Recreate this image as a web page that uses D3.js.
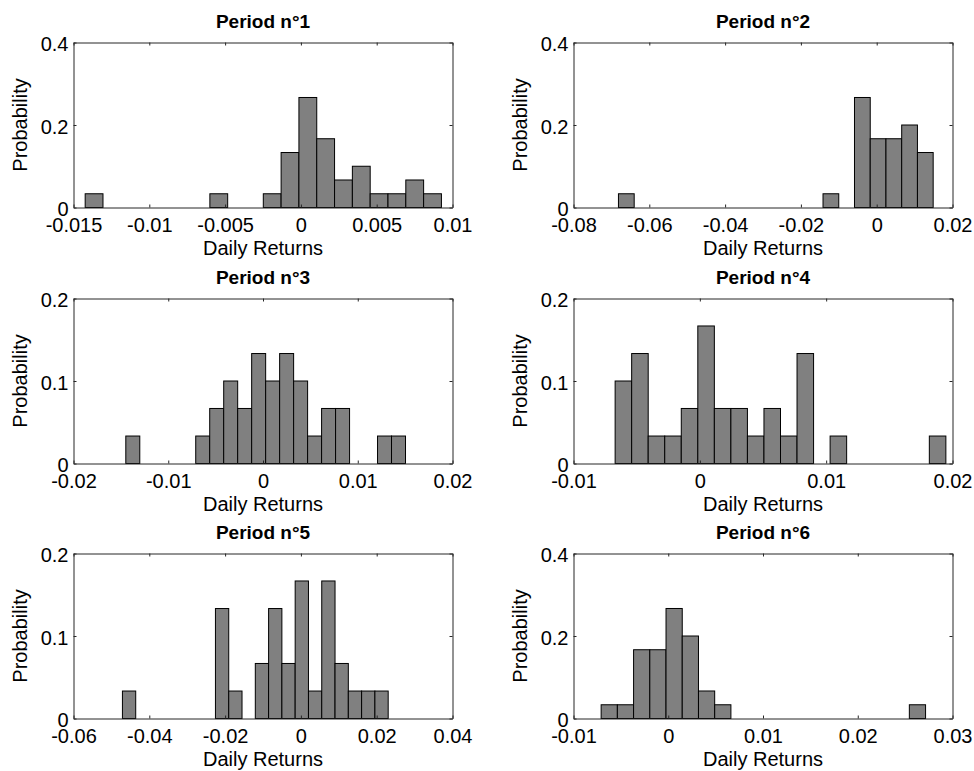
<!DOCTYPE html>
<html>
<head>
<meta charset="utf-8">
<script src="https://cdn.jsdelivr.net/npm/d3@7"></script>
<style>
body { margin: 0; background: #fff; }
text { font-family: "Liberation Sans", Arial, sans-serif; }
</style>
</head>
<body>
<script>
// histogram data, 20 bins per period (probability per bin)
var titles = ["Period n°1", "Period n°2", "Period n°3", "Period n°4", "Period n°5", "Period n°6"];
var binStarts = [-0.01423, -0.06814, -0.01448, -0.006705, -0.04709, -0.007083];
var binWidths = [0.001175, 0.004152, 0.001476, 0.001309, 0.003506, 0.001712];

var probs1 = [0.0333,0,0,0,0, 0,0,0.0333,0,0, 0.0333,0.1333,0.2667,0.1667,0.0667, 0.1,0.0333,0.0333,0.0667,0.0333];
var probs2 = [0.0333,0,0,0,0, 0,0,0,0,0, 0,0,0,0.0333,0, 0.2667,0.1667,0.1667,0.2,0.1333];
var probs3 = [0.0333,0,0,0,0, 0.0333,0.0667,0.1,0.0667,0.1333, 0.1,0.1333,0.1,0.0333,0.0667, 0.0667,0,0,0.0333,0.0333];
var probs4 = [0.1,0.1333,0.0333,0.0333,0.0667, 0.1667,0.0667,0.0667,0.0333,0.0667, 0.0333,0.1333,0,0.0333,0, 0,0,0,0,0.0333];
var probs5 = [0.0333,0,0,0,0, 0,0,0.1333,0.0333,0, 0.0667,0.1333,0.0667,0.1667,0.0333, 0.1667,0.0667,0.0333,0.0333,0.0333];
var probs6 = [0.0333,0.0333,0.1667,0.1667,0.2667, 0.2,0.0667,0.0333,0,0, 0,0,0,0,0, 0,0,0,0,0.0333];
var allProbs = [probs1, probs2, probs3, probs4, probs5, probs6];

var xDomains = [[-0.015, 0.01], [-0.08, 0.02], [-0.02, 0.02], [-0.01, 0.02], [-0.06, 0.04], [-0.01, 0.03]];
var xTicks = [
  [-0.015, -0.01, -0.005, 0, 0.005, 0.01],
  [-0.08, -0.06, -0.04, -0.02, 0, 0.02],
  [-0.02, -0.01, 0, 0.01, 0.02],
  [-0.01, 0, 0.01, 0.02],
  [-0.06, -0.04, -0.02, 0, 0.02, 0.04],
  [-0.01, 0, 0.01, 0.02, 0.03]
];
var yMaxes = [0.4, 0.4, 0.2, 0.2, 0.2, 0.4];
var yTicks = [[0, 0.2, 0.4], [0, 0.2, 0.4], [0, 0.1, 0.2], [0, 0.1, 0.2], [0, 0.1, 0.2], [0, 0.2, 0.4]];

var svgWidth = 974, svgHeight = 771;
var colLeft = [73.5, 573.5], plotW = 379;
var rowTop = [42.5, 298.5, 553.5], plotH = 165;
var axisColor = "#262626";

var svg = d3.select("body").append("svg")
  .attr("width", svgWidth).attr("height", svgHeight);

var fmt = function(d) { return String(+d.toFixed(4)); };

titles.forEach(function(title, i) {
  var left = colLeft[i % 2], top = rowTop[Math.floor(i / 2)];
  var x = d3.scaleLinear().domain(xDomains[i]).range([0, plotW]);
  var y = d3.scaleLinear().domain([0, yMaxes[i]]).range([plotH, 0]);

  var g = svg.append("g").attr("transform", "translate(" + left + "," + top + ")");

  var bins = allProbs[i].map(function(p, k) {
    return { x0: binStarts[i] + k * binWidths[i], x1: binStarts[i] + (k + 1) * binWidths[i], p: p };
  }).filter(function(b) { return b.p > 0; });

  g.selectAll("rect.bar")
    .data(bins)
    .enter().append("rect")
    .attr("class", "bar")
    .attr("x", function(d) { return x(d.x0); })
    .attr("width", function(d) { return x(d.x1) - x(d.x0); })
    .attr("y", function(d) { return y(d.p); })
    .attr("height", function(d) { return plotH - y(d.p); })
    .attr("fill", "#808080")
    .attr("stroke", "#000")
    .attr("stroke-width", 1);

  // box with inward ticks, like matlab
  var bottom = g.append("g").attr("transform", "translate(0," + plotH + ")")
    .call(d3.axisBottom(x).tickValues(xTicks[i]).tickFormat(fmt)
      .tickSizeInner(-3).tickSizeOuter(0).tickPadding(10));
  var topAx = g.append("g")
    .call(d3.axisTop(x).tickValues(xTicks[i]).tickFormat("")
      .tickSizeInner(-3).tickSizeOuter(0));
  var leftAx = g.append("g")
    .call(d3.axisLeft(y).tickValues(yTicks[i]).tickFormat(fmt)
      .tickSizeInner(-3).tickSizeOuter(0).tickPadding(5));
  var rightAx = g.append("g").attr("transform", "translate(" + plotW + ",0)")
    .call(d3.axisRight(y).tickValues(yTicks[i]).tickFormat("")
      .tickSizeInner(-3).tickSizeOuter(0));

  [bottom, topAx, leftAx, rightAx].forEach(function(a) {
    a.attr("font-size", 20).attr("font-family", null);
    a.selectAll("path, line").attr("stroke", axisColor);
    a.selectAll("text").attr("fill", "#000");
  });
  leftAx.selectAll("text").attr("dy", "0.42em");

  g.append("text")
    .attr("x", plotW / 2).attr("y", -15)
    .attr("text-anchor", "middle")
    .attr("font-size", 19).attr("font-weight", "bold")
    .text(title);

  g.append("text")
    .attr("x", plotW / 2).attr("y", plotH + 47)
    .attr("text-anchor", "middle")
    .attr("font-size", 20)
    .text("Daily Returns");

  g.append("text")
    .attr("transform", "translate(-46.5," + plotH / 2 + ") rotate(-90)")
    .attr("text-anchor", "middle")
    .attr("font-size", 20)
    .text("Probability");
});
</script>
</body>
</html>
